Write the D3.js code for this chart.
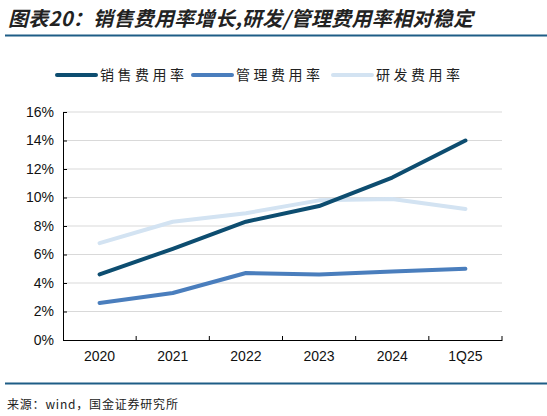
<!DOCTYPE html>
<html><head><meta charset="utf-8">
<script src="https://cdn.jsdelivr.net/npm/d3@7"></script>
<style>body{margin:0;background:#fff}svg{display:block}</style>
</head><body>
<svg id="c" width="547" height="416"></svg>
<script>
const categories = ["2020","2021","2022","2023","2024","1Q25"];
const seriesNames = ["销售费用率","管理费用率","研发费用率"];
const salesRate = [4.6, 6.4, 8.3, 9.4, 11.4, 14.0];
const adminRate = [2.6, 3.3, 4.7, 4.6, 4.8, 5.0];
const rdRate = [6.8, 8.3, 8.9, 9.8, 9.9, 9.2];
const yTicks = [0,2,4,6,8,10,12,14,16];

const colors = ["#0d4d70","#4a7ebd","#d3e3f2"];
const data = [salesRate, adminRate, rdRate];
const svg = d3.select("#c");
const cjk = "'Noto Sans CJK SC', sans-serif";

svg.append("text").attr("x",8).attr("y",26)
  .attr("font-family",cjk).attr("font-size",20).attr("font-weight","bold")
  .attr("font-style","italic").attr("fill","#222").attr("letter-spacing",0.3)
  .text("图表20：销售费用率增长,研发/管理费用率相对稳定");
svg.append("line").attr("x1",5).attr("x2",547).attr("y1",35.5).attr("y2",35.5)
  .attr("stroke","#1e5d86").attr("stroke-width",2);

const m = {l:63, r:502, t:112, b:340};
const x = d3.scaleBand().domain(categories).range([m.l, m.r]);
const y = d3.scaleLinear().domain([0,16]).range([m.b, m.t]);

svg.append("g").selectAll("line").data(yTicks.filter(d=>d>0)).join("line")
  .attr("x1",m.l).attr("x2",m.r).attr("y1",d=>y(d)).attr("y2",d=>y(d))
  .attr("stroke","#d9d9d9").attr("stroke-width",1);

const yAxis = svg.append("g").attr("transform",`translate(${m.l},0)`)
  .call(d3.axisLeft(y).tickValues(yTicks).tickFormat(d=>d+"%").tickSize(4).tickSizeOuter(0));
yAxis.selectAll("text").attr("font-family","'Liberation Sans', Arial, sans-serif").attr("font-size",14).attr("fill","#111").attr("dx","-2");
yAxis.select(".domain").attr("stroke","#000");
yAxis.selectAll(".tick line").attr("stroke","#000").attr("x2",4);

const xAxis = svg.append("g").attr("transform",`translate(0,${m.b})`)
  .call(d3.axisBottom(x).tickSize(0).tickSizeOuter(0));
xAxis.select(".domain").attr("stroke","#000");
xAxis.selectAll("text").attr("font-family","'Liberation Sans', Arial, sans-serif").attr("font-size",14).attr("fill","#111").attr("dy","1.3em");
const bounds = categories.map(c=>x(c)).concat([m.r]).slice(1);
svg.append("g").selectAll("line").data(bounds).join("line")
  .attr("x1",d=>d).attr("x2",d=>d).attr("y1",m.b).attr("y2",m.b-4)
  .attr("stroke","#000");

const line = d3.line().x((d,i)=>x(categories[i])+x.bandwidth()/2).y(d=>y(d));
[2,1,0].forEach(k=>{
  svg.append("path").datum(data[k]).attr("d",line).attr("fill","none")
    .attr("stroke",colors[k]).attr("stroke-width",4).attr("stroke-linecap","round").attr("stroke-linejoin","round");
});

const legX = [57,193,333];
seriesNames.forEach((n,i)=>{
  svg.append("line").attr("x1",legX[i]).attr("x2",legX[i]+39).attr("y1",75).attr("y2",75)
    .attr("stroke",colors[i]).attr("stroke-width",4).attr("stroke-linecap","round");
  svg.append("text").attr("x",legX[i]+43).attr("y",80).attr("font-family",cjk)
    .attr("font-size",14).attr("letter-spacing",3.5).attr("fill","#222").text(n);
});

svg.append("line").attr("x1",5).attr("x2",547).attr("y1",383.5).attr("y2",383.5)
  .attr("stroke","#1e5d86").attr("stroke-width",2);
svg.append("text").attr("x",7).attr("y",409).attr("font-family",cjk)
  .attr("font-size",12).attr("letter-spacing",0.8).attr("fill","#222").text("来源：wind，国金证券研究所");
</script>
</body></html>
